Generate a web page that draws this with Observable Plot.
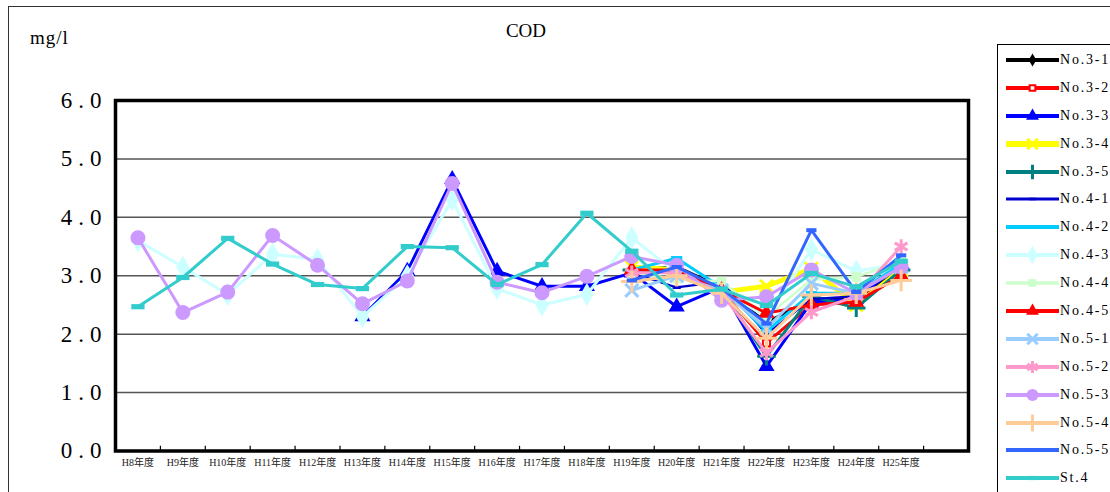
<!DOCTYPE html>
<html>
<head>
<meta charset="utf-8">
<script src="https://cdn.jsdelivr.net/npm/d3@7"></script>
<script src="https://cdn.jsdelivr.net/npm/@observablehq/plot@0.6"></script>
<style>
  html, body { margin: 0; padding: 0; background: #fff; overflow: hidden; }
  #wrap { position: relative; width: 1110px; height: 492px; overflow: hidden;
          font-family: "Liberation Serif", "Noto Sans CJK JP", serif; }
  #outer { position: absolute; left: 8px; top: 6px; width: 1200px; height: 600px;
           border: 1.5px solid #333; box-sizing: border-box; }
  #chart { position: absolute; left: 0; top: 0; }
  #chart g[aria-label="y-axis tick label"] text { letter-spacing: 6px; }
  #title { position: absolute; left: 0; width: 1052px; top: 20px; text-align: center;
           font-size: 19px; color: #000; }
  #unit { position: absolute; left: 30px; top: 27px; font-size: 19px; color: #000; letter-spacing: 1px; }
  #legend { position: absolute; left: 997px; top: 44px; width: 200px; height: 600px;
            border: 1.5px solid #000; box-sizing: border-box; padding-top: 1px; }
  .row { height: 27.9px; display: flex; align-items: center; }
  .row svg { flex: none; }
  .row span { font-size: 14px; color: #000; letter-spacing: 1.8px; margin-left: 0px; }
</style>
</head>
<body>
<div id="wrap">
  <div id="outer"></div>
  <div id="chart"></div>
  <div id="title"></div>
  <div id="unit"></div>
  <div id="legend"></div>
</div>
<script>
// ---- data ----
const title = "COD";
const unit = "mg/l";
const years = ["H8年度","H9年度","H10年度","H11年度","H12年度","H13年度","H14年度","H15年度","H16年度",
               "H17年度","H18年度","H19年度","H20年度","H21年度","H22年度","H23年度","H24年度","H25年度"];
const yTicks = [0, 1, 2, 3, 4, 5, 6];
const seriesNames = ["No.3-1","No.3-2","No.3-3","No.3-4","No.3-5","No.4-1","No.4-2","No.4-3",
                     "No.4-4","No.4-5","No.5-1","No.5-2","No.5-3","No.5-4","No.5-5","St.4"];
const _ = null;
const v31 = [_,_,_,_,_,_,_,_,_,_,_, 3.10, 3.15, 2.80, 2.20, 2.60, 2.60, 3.10];
const v32 = [_,_,_,_,_,_,_,_,_,_,_, 3.05, 3.10, 2.75, 1.85, 2.50, 2.60, 3.00];
const v33 = [_,_,_,_,_, 2.30, 3.08, 4.65, 3.08, 2.82, 2.82, 3.05, 2.47, 2.80, 1.45, 2.55, 2.60, 3.20];
const v34 = [_,_,_,_,_,_,_,_,_,_,_, 3.15, 3.10, 2.72, 2.82, 3.12, 2.50, 3.10];
const v35 = [_,_,_,_,_,_,_,_,_,_,_, 3.10, 3.05, 2.75, 1.62, 2.65, 2.45, 3.10];
const v41 = [_,_,_,_,_,_,_,_,_,_,_, 3.05, 2.80, 2.90, 2.00, 2.60, 2.65, 3.20];
const v42 = [_,_,_,_,_,_,_,_,_,_,_, 3.10, 3.30, 2.80, 2.05, 2.70, 2.70, 3.20];
const v43 = [3.60, 3.15, 2.68, 3.37, 3.28, 2.30, 3.00, 4.30, 2.78, 2.50, 2.68, 3.65, 3.05, 2.75, 2.30, 3.45, 3.08, 3.20];
const v44 = [_,_,_,_,_,_,_,_,_,_,_, 3.05, 2.95, 2.90, 2.30, 2.93, 2.98, 3.25];
const v45 = [_,_,_,_,_,_,_,_,_,_,_, 3.10, 3.10, 2.75, 2.36, 2.50, 2.55, 3.00];
const v51 = [_,_,_,_,_,_,_,_,_,_,_, 2.75, 3.00, 2.75, 2.10, 2.87, 2.70, 3.15];
const v52 = [_,_,_,_,_,_,_,_,_,_,_, 3.05, 3.05, 2.70, 1.68, 2.38, 2.65, 3.50];
const v53 = [3.65, 2.37, 2.72, 3.69, 3.18, 2.52, 2.91, 4.58, 2.89, 2.71, 2.99, 3.33, 3.18, 2.58, 2.64, 3.10, 2.70, 3.15];
const v54 = [_,_,_,_,_,_,_,_,_,_,_, 2.90, 3.00, 2.70, 1.93, 2.67, 2.70, 2.92];
const v55 = [_,_,_,_,_,_,_,_,_,_,_, 2.92, 3.15, 2.78, 2.18, 3.78, 2.72, 3.35];
const vSt4 = [2.47, 2.97, 3.64, 3.20, 2.85, 2.78, 3.50, 3.48, 2.85, 3.19, 4.07, 3.42, 2.67, 2.77, 2.49, 3.04, 2.81, 3.25];
const seriesValues = [v31, v32, v33, v34, v35, v41, v42, v43, v44, v45, v51, v52, v53, v54, v55, vSt4];

// ---- styles ----
const dash = { draw(ctx, size) { const s = Math.sqrt(size); const w = s * 1.15, h = s * 0.45;
  ctx.moveTo(-w/2, -h/2); ctx.lineTo(w/2, -h/2); ctx.lineTo(w/2, h/2); ctx.lineTo(-w/2, h/2); ctx.closePath(); } };
const symMap = { diamond: d3.symbolDiamond, square: d3.symbolSquare, triangle: d3.symbolTriangle,
  circle: d3.symbolCircle, times: d3.symbolTimes, plus: d3.symbolPlus, asterisk: d3.symbolAsterisk, dash: dash };
const styles = {
  "No.3-1": {color: "#000000", lw: 3,   sym: "diamond",  r: 5,   fill: "#000000"},
  "No.3-2": {color: "#ff0000", lw: 3,   sym: "square",   r: 4,   fill: "#ffffff", sw: 2},
  "No.3-3": {color: "#0000ff", lw: 3,   sym: "triangle", r: 6,   fill: "#0000ff"},
  "No.3-4": {color: "#ffff00", lw: 5,   sym: "times",    r: 6,   sw: 3},
  "No.3-5": {color: "#008080", lw: 3,   sym: "plus",     r: 6,   sw: 3},
  "No.4-1": {color: "#0000cc", lw: 2.2, sym: "dash",     r: 4,   fill: "#0000cc"},
  "No.4-2": {color: "#00ccff", lw: 3,   sym: "dash",     r: 5.5, fill: "#00ccff"},
  "No.4-3": {color: "#ccffff", lw: 3,   sym: "diamond",  r: 7,   fill: "#ccffff"},
  "No.4-4": {color: "#ccffcc", lw: 2.5, sym: "square",   r: 5.5, fill: "#ccffcc"},
  "No.4-5": {color: "#ff0000", lw: 3,   sym: "triangle", r: 6,   fill: "#ff0000"},
  "No.5-1": {color: "#99ccff", lw: 3,   sym: "times",    r: 6,   sw: 3},
  "No.5-2": {color: "#ff99cc", lw: 3,   sym: "asterisk", r: 7,   sw: 3},
  "No.5-3": {color: "#cc99ff", lw: 3,   sym: "circle",   r: 7.5, fill: "#cc99ff"},
  "No.5-4": {color: "#ffcc99", lw: 3,   sym: "plus",     r: 7,   sw: 3},
  "No.5-5": {color: "#3366ff", lw: 3,   sym: "dash",     r: 5,   fill: "#3366ff"},
  "St.4":   {color: "#33cccc", lw: 3,   sym: "dash",     r: 6.5, fill: "#33cccc"}
};
const FONT = "'Liberation Serif','Noto Sans CJK JP',serif";

// ---- build rows ----
const series = seriesNames.map((name, k) => ({
  name,
  rows: seriesValues[k].map((v, i) => ({name, i, year: years[i], value: v})).filter(d => d.value != null)
}));

const marks = [
  Plot.ruleY([1, 2, 3, 4, 5], {stroke: "#555", strokeWidth: 1.5}),
  Plot.ruleX(d3.range(years.length).map(i => i + 0.5), {y1: 0, y2: 0.08, stroke: "#000", strokeWidth: 1.2}),
  Plot.axisY(yTicks, {tickSize: 0, tickPadding: 8, fontSize: 23, tickFormat: d3.format(".1f"),
    fill: "#000", label: null}),
  Plot.axisX(d3.range(years.length), {tickSize: 0, tickPadding: 8, fontSize: 10,
    tickFormat: i => years[i], fill: "#222", label: null})
];
for (const s of series) {
  const st = styles[s.name];
  marks.push(Plot.line(s.rows, {x: "i", y: "value", stroke: st.color, strokeWidth: st.lw,
    strokeLinejoin: "round", curve: "linear"}));
  const isStroke = ["times", "plus", "asterisk"].includes(st.sym);
  marks.push(Plot.dot(s.rows, {x: "i", y: "value", r: st.r, symbol: symMap[st.sym],
    fill: isStroke ? "none" : st.fill,
    stroke: isStroke ? st.color : (st.sw ? st.color : "none"),
    strokeWidth: st.sw || 0}));
}
marks.push(Plot.frame({stroke: "#000", strokeWidth: 3.5}));

const chart = Plot.plot({
  width: 990, height: 492,
  marginLeft: 115, marginRight: 22, marginTop: 100, marginBottom: 41.5,
  x: {type: "linear", domain: [-0.5, years.length + 0.5]},
  y: {domain: [0, 6]},
  style: {fontFamily: FONT, background: "transparent", overflow: "visible"},
  marks
});
document.getElementById("chart").append(chart);
document.getElementById("title").textContent = title;
document.getElementById("unit").textContent = unit;

// ---- legend ----
const legend = document.getElementById("legend");
for (const name of seriesNames) {
  const st = styles[name];
  const row = document.createElement("div");
  row.className = "row";
  const svg = d3.create("svg").attr("width", 62).attr("height", 24);
  svg.append("line").attr("x1", 8).attr("x2", 61).attr("y1", 12).attr("y2", 12)
    .attr("stroke", st.color).attr("stroke-width", st.lw + 1);
  const isStroke = ["times", "plus", "asterisk"].includes(st.sym);
  const rr = st.r * 0.8;
  svg.append("path").attr("transform", "translate(34.5,12)")
    .attr("d", d3.symbol(symMap[st.sym], Math.PI * rr * rr)())
    .attr("fill", isStroke ? "none" : st.fill)
    .attr("stroke", isStroke ? st.color : (st.sw ? st.color : "none"))
    .attr("stroke-width", st.sw || 0);
  row.append(svg.node());
  const span = document.createElement("span");
  span.textContent = name;
  row.append(span);
  legend.append(row);
}
</script>
</body>
</html>
